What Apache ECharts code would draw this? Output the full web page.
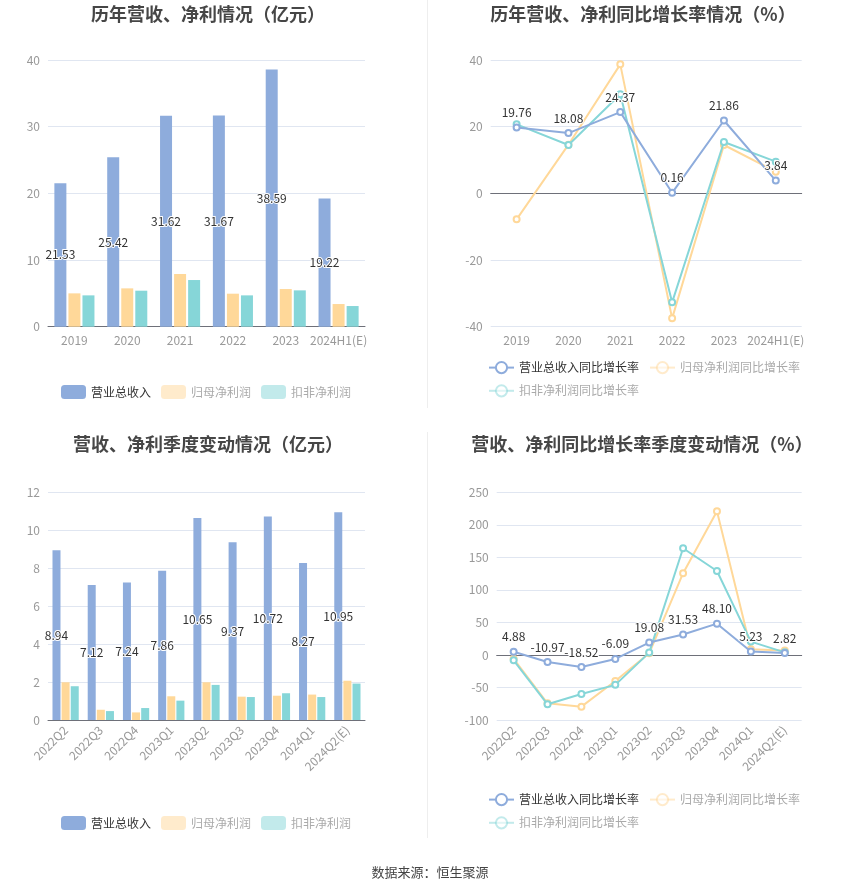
<!DOCTYPE html>
<html>
<head>
<meta charset="utf-8">
<script src="https://cdn.jsdelivr.net/npm/echarts@6/dist/echarts.min.js"></script>
<style>
html,body{margin:0;padding:0;background:#fff;}
#main{width:850px;height:891px;}
</style>
</head>
<body>
<div id="main"></div>
<script>
// ---- Data ----
const yearCats = ['2019','2020','2021','2022','2023','2024H1(E)'];
const yearRevenue = [21.53, 25.42, 31.62, 31.67, 38.59, 19.22];
const yearNetProfit = [5.0, 5.75, 7.9, 4.95, 5.65, 3.4];
const yearDeductedProfit = [4.7, 5.4, 7.0, 4.7, 5.45, 3.1];

const yearRevenueGrowth = [19.76, 18.08, 24.37, 0.16, 21.86, 3.84];
const yearNetProfitGrowth = [-7.8, 14.6, 38.7, -37.5, 14.5, 6.5];
const yearDeductedGrowth = [20.7, 14.5, 29.7, -32.7, 15.4, 9.5];

const quarterCats = ['2022Q2','2022Q3','2022Q4','2023Q1','2023Q2','2023Q3','2023Q4','2024Q1','2024Q2(E)'];
const quarterRevenue = [8.94, 7.12, 7.24, 7.86, 10.65, 9.37, 10.72, 8.27, 10.95];
const quarterNetProfit = [1.99, 0.54, 0.40, 1.25, 1.99, 1.23, 1.28, 1.34, 2.07];
const quarterDeductedProfit = [1.78, 0.47, 0.63, 1.02, 1.85, 1.21, 1.41, 1.21, 1.92];

const quarterRevenueGrowth = [4.88, -10.97, -18.52, -6.09, 19.08, 31.53, 48.10, 5.23, 2.82];
const quarterNetProfitGrowth = [-6, -74.4, -79.5, -40, 2.5, 125.6, 221, 8.7, 6.7];
const quarterDeductedGrowth = [-8.2, -75.9, -60, -46, 3.6, 164, 129, 20.5, 4];

const titles = ['历年营收、净利情况（亿元）','历年营收、净利同比增长率情况（%）','营收、净利季度变动情况（亿元）','营收、净利同比增长率季度变动情况（%）'];
const barNames = ['营业总收入','归母净利润','扣非净利润'];
const lineNames = ['营业总收入同比增长率','归母净利润同比增长率','扣非净利润同比增长率'];
const sourceText = '数据来源：恒生聚源';

// ---- Styles ----
const C_BLUE = '#8EACDC', C_YEL = '#FFD899', C_TEAL = '#86D6D8';
const FONT = '"Noto Sans CJK SC","Noto Sans",sans-serif';
const axisLabel = {color:'#999', fontSize:12, fontFamily:FONT};
const splitLine = {lineStyle:{color:'#E0E6F1'}};

function valueLabel(pos){
  return {show:true, position:pos, color:'#333', fontSize:12, fontFamily:FONT,
          textBorderColor:'#fff', textBorderWidth:2,
          formatter: p => p.value.toFixed(2)};
}
function xAx(grid, data, rotate){
  return {type:'category', gridIndex:grid, data:data,
    axisTick:{alignWithLabel:true}, axisLine:{lineStyle:{color:'#6E7079'}},
    axisLabel:Object.assign({interval:0, rotate:rotate||0, margin:8}, axisLabel)};
}
function yAx(grid,min,max,interval){
  return {type:'value', gridIndex:grid, min:min, max:max, interval:interval,
    axisLabel:axisLabel, splitLine:splitLine, axisLine:{show:false}, axisTick:{show:false}};
}
function barLegend(top){
  return {left:56, top:top, itemWidth:25, itemHeight:14, itemGap:10,
    textStyle:{fontSize:12, fontFamily:FONT},
    data:[
      {name:barNames[0], textStyle:{color:'#333'}},
      {name:barNames[1], textStyle:{color:'#aaa'}, itemStyle:{opacity:0.5}},
      {name:barNames[2], textStyle:{color:'#aaa'}, itemStyle:{opacity:0.5}}
    ]};
}
function lineLegend(top){
  return {left:483, top:top, width:330, itemWidth:25, itemHeight:14, itemGap:10,
    textStyle:{fontSize:12, fontFamily:FONT},
    data:[
      {name:lineNames[0], textStyle:{color:'#333'}},
      {name:lineNames[1], textStyle:{color:'#aaa'}, itemStyle:{opacity:0.5}, lineStyle:{opacity:0.5}},
      {name:lineNames[2], textStyle:{color:'#aaa'}, itemStyle:{opacity:0.5}, lineStyle:{opacity:0.5}}
    ]};
}
function bars(idx, rev, np, dp, bw, gap){
  const base = {type:'bar', xAxisIndex:idx, yAxisIndex:idx, barWidth:bw, barGap:gap};
  return [
    Object.assign({name:barNames[0], data:rev, itemStyle:{color:C_BLUE}, label:valueLabel('inside'), z:3}, base),
    Object.assign({name:barNames[1], data:np, itemStyle:{color:C_YEL}}, base),
    Object.assign({name:barNames[2], data:dp, itemStyle:{color:C_TEAL}}, base)
  ];
}
function lines(idx, a, b, c){
  const base = {type:'line', xAxisIndex:idx, yAxisIndex:idx, symbol:'emptyCircle', symbolSize:6, lineStyle:{width:2}};
  return [
    Object.assign({name:lineNames[1], data:b, itemStyle:{color:C_YEL}, z:2}, base),
    Object.assign({name:lineNames[2], data:c, itemStyle:{color:C_TEAL}, z:3}, base),
    Object.assign({name:lineNames[0], data:a, itemStyle:{color:C_BLUE}, label:valueLabel('top'), z:4}, base)
  ];
}

const titleStyle = {fontSize:18, fontWeight:'bold', color:'#464646', fontFamily:FONT};
const chart = echarts.init(document.getElementById('main'));
chart.setOption({
  backgroundColor:'#fff',
  animation:false,
  title:[
    {text:titles[0], left:203, top:0, textAlign:'center', textStyle:titleStyle},
    {text:titles[1], left:638, top:0, textAlign:'center', textStyle:titleStyle},
    {text:titles[2], left:203, top:430, textAlign:'center', textStyle:titleStyle},
    {text:titles[3], left:637, top:430, textAlign:'center', textStyle:titleStyle},
    {text:sourceText, left:425, top:861, textAlign:'center', textStyle:{fontSize:13, fontWeight:'normal', color:'#444', fontFamily:FONT}}
  ],
  legend:[barLegend(380), lineLegend(356), barLegend(811), lineLegend(788)],
  grid:[
    {left:48, right:485, top:60, bottom:564.3},
    {left:490.7, right:48.3, top:60, bottom:564.3},
    {left:48, right:485, top:492.3, bottom:171},
    {left:496.7, right:48.3, top:492.3, bottom:171}
  ],
  xAxis:[xAx(0,yearCats), xAx(1,yearCats), xAx(2,quarterCats,45), xAx(3,quarterCats,45)],
  yAxis:[yAx(0,0,40,10), yAx(1,-40,40,20), yAx(2,0,12,2), yAx(3,-100,250,50)],
  graphic:[
    {type:'line', shape:{x1:427.5,y1:0,x2:427.5,y2:408}, style:{stroke:'#eeeeee', lineWidth:1}},
    {type:'line', shape:{x1:427.5,y1:432,x2:427.5,y2:838}, style:{stroke:'#eeeeee', lineWidth:1}}
  ],
  series:[].concat(
    bars(0, yearRevenue, yearNetProfit, yearDeductedProfit, 12, '17%'),
    lines(1, yearRevenueGrowth, yearNetProfitGrowth, yearDeductedGrowth),
    bars(2, quarterRevenue, quarterNetProfit, quarterDeductedProfit, 8, '14%'),
    lines(3, quarterRevenueGrowth, quarterNetProfitGrowth, quarterDeductedGrowth)
  )
});
</script>
</body>
</html>
